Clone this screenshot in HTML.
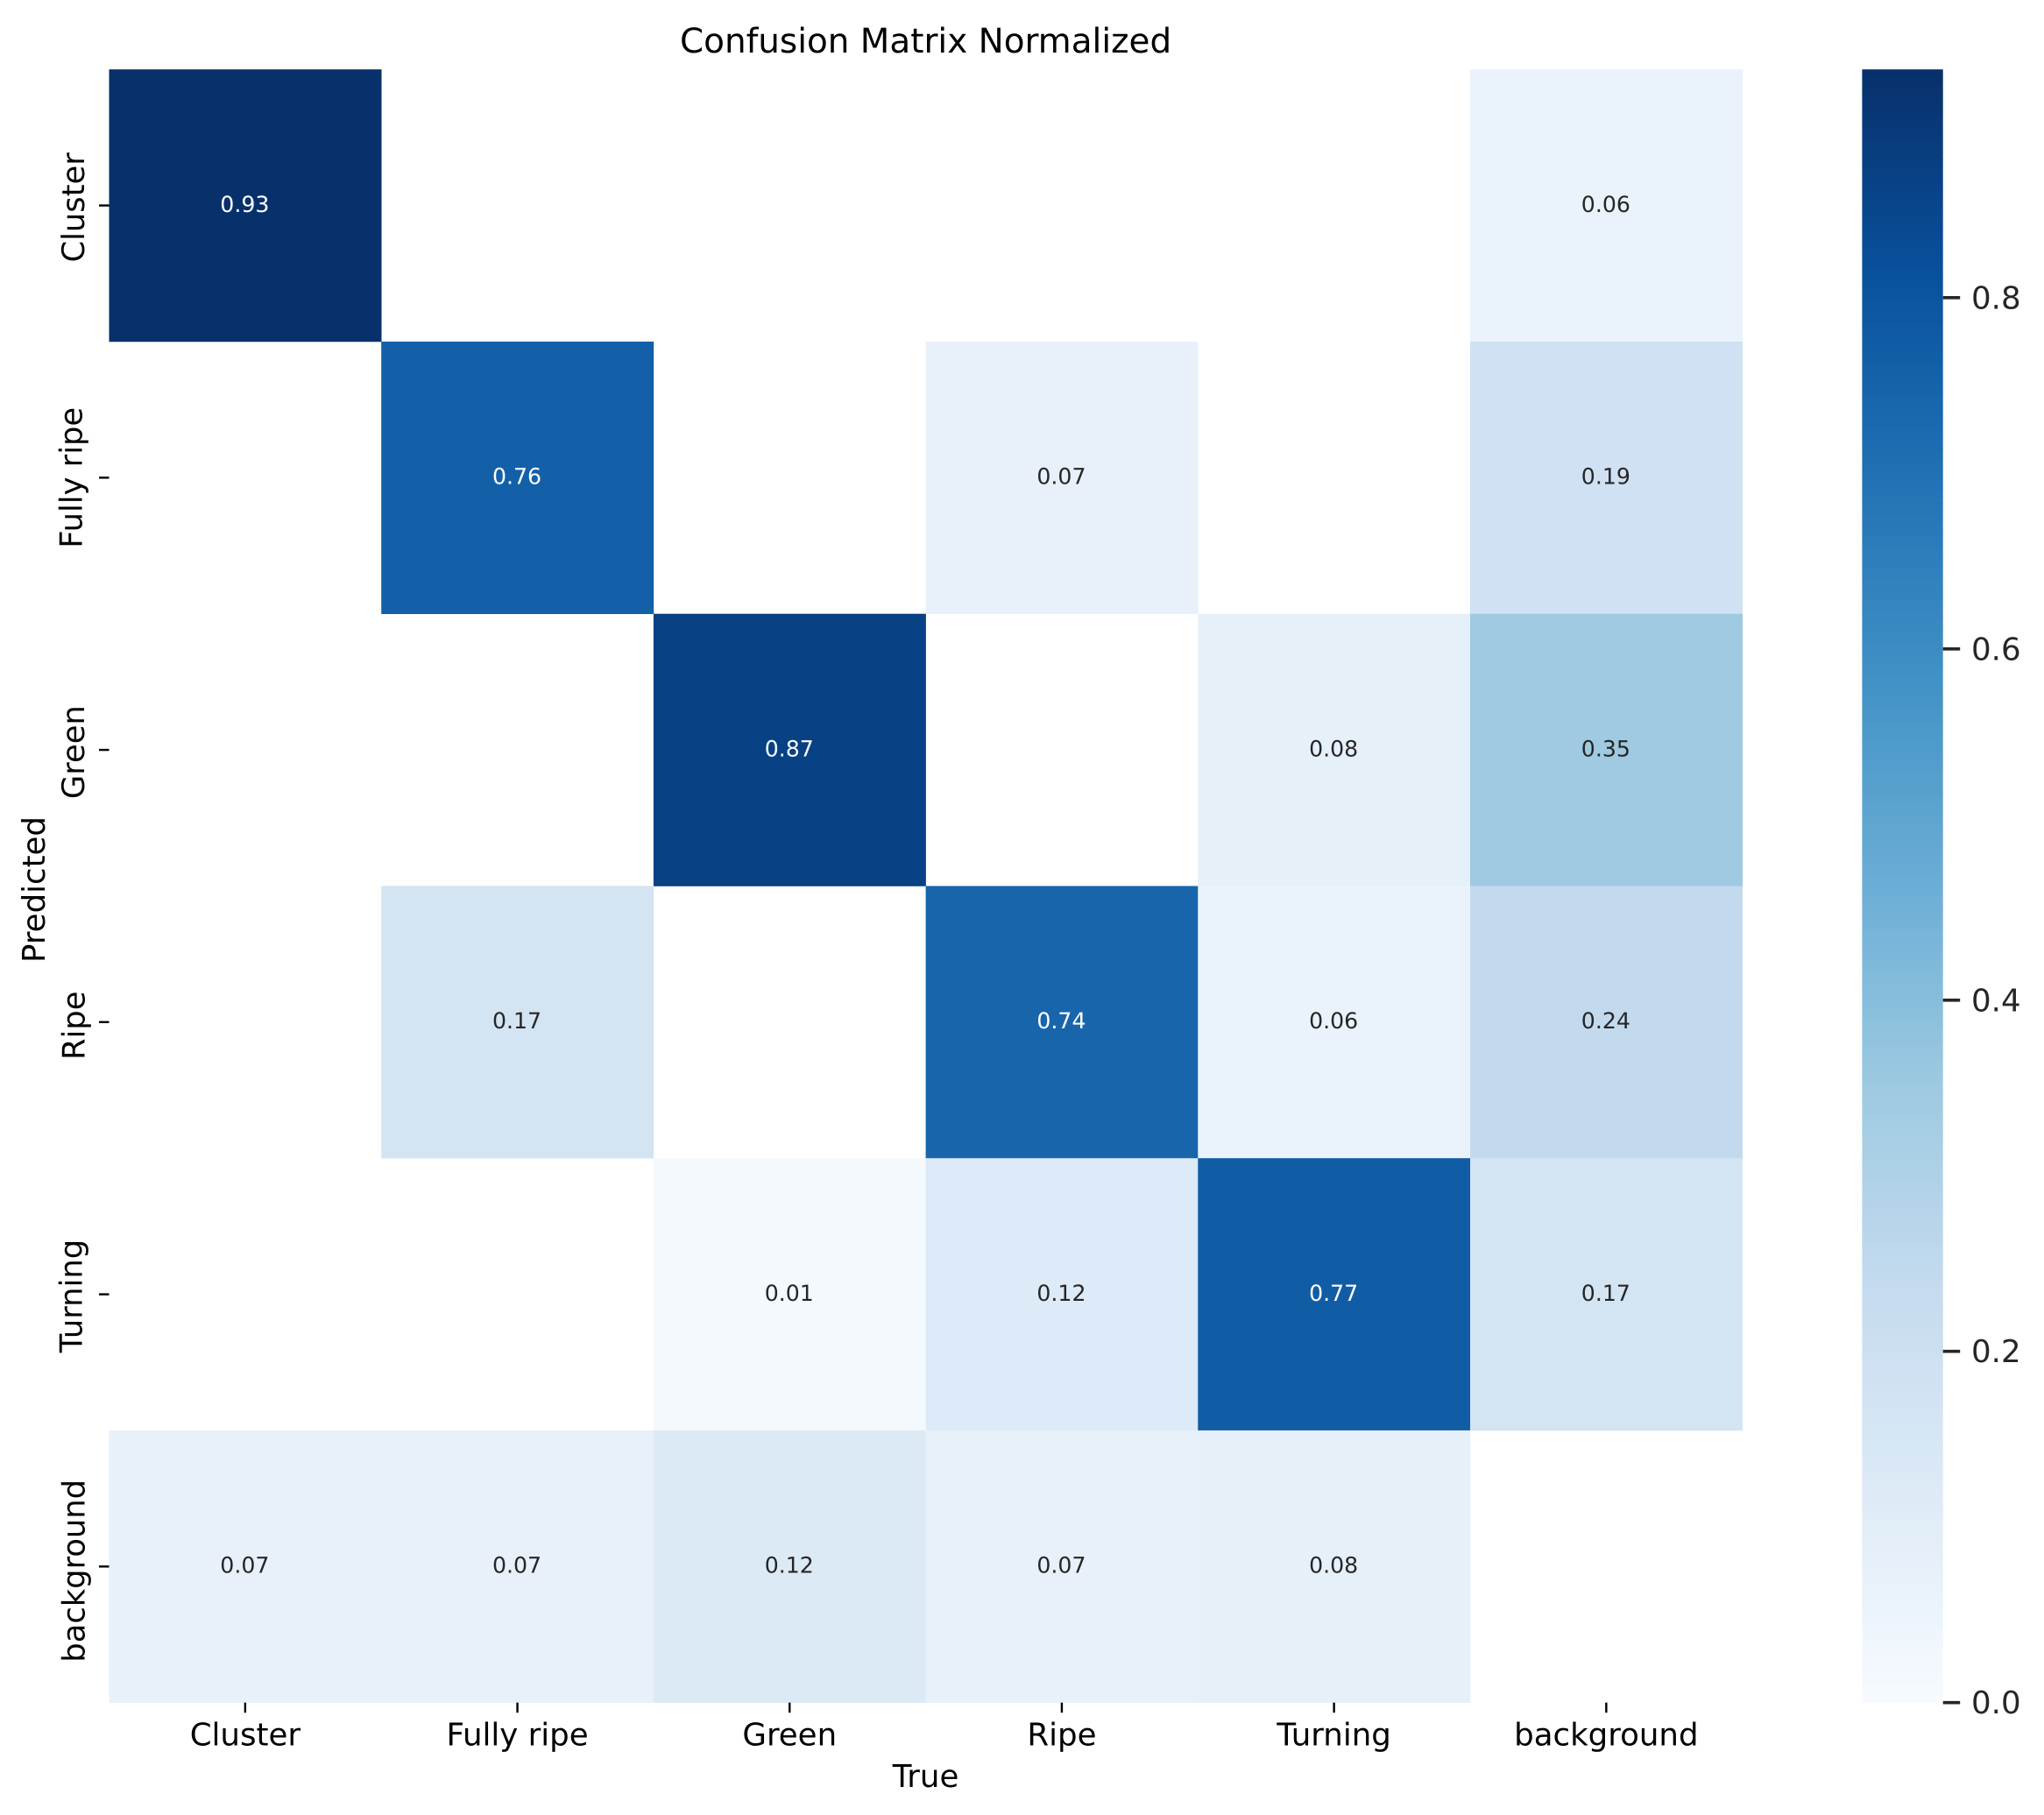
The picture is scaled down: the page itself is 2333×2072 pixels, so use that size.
<!DOCTYPE html>
<html lang="en">
<head>
<meta charset="utf-8">
<title>Confusion Matrix Normalized</title>
<style>
html,body{margin:0;padding:0;background:#fff;}
svg{display:block;font-family:"DejaVu Sans","Liberation Sans",sans-serif;text-rendering:geometricPrecision;}
</style>
</head>
<body>
<svg id="chart" xmlns="http://www.w3.org/2000/svg" width="2333" height="2072" viewBox="0 0 2333 2072">
<rect x="0" y="0" width="2333" height="2072" fill="#ffffff"/>
<g id="cells"></g>
<g id="annots"></g>
<g id="xticks"></g>
<g id="yticks"></g>
<g id="cbar"></g>
<g id="cbarticks"></g>
<text x="1056.6" y="60" font-size="38.9" text-anchor="middle" fill="#000">Confusion Matrix Normalized</text>
<text x="1056.6" y="2040" font-size="35.6" text-anchor="middle" fill="#000">True</text>
<text transform="translate(51,1015.5) rotate(-90)" font-size="35.6" text-anchor="middle" fill="#000">Predicted</text>
</svg>
<script>
const trueLabels = ["Cluster", "Fully ripe", "Green", "Ripe", "Turning", "background"];
const predictedLabels = ["Cluster", "Fully ripe", "Green", "Ripe", "Turning", "background"];
const rowCluster = [0.93, 0, 0, 0, 0, 0.06];
const rowFullyRipe = [0, 0.76, 0, 0.07, 0, 0.19];
const rowGreen = [0, 0, 0.87, 0, 0.08, 0.346];
const rowRipe = [0, 0.17, 0, 0.74, 0.06, 0.24];
const rowTurning = [0, 0, 0.013, 0.12, 0.77, 0.17];
const rowBackground = [0.07, 0.07, 0.124, 0.07, 0.08, 0];
const colorbarTicks = [0, 0.2, 0.4, 0.6, 0.8];
const blues = ["#f7fbff", "#deebf7", "#c6dbef", "#9ecae1", "#6baed6", "#4292c6", "#2171b5", "#08519c", "#08306b"];

const matrix = [rowCluster, rowFullyRipe, rowGreen, rowRipe, rowTurning, rowBackground];
const NS = "http://www.w3.org/2000/svg";
const plot = { left: 124.5, right: 1988.7, top: 79.2, bottom: 1943.7 };
const bar = { left: 2125.4, right: 2217.7, top: 79.2, bottom: 1943.7 };
const yLabelNudge = { "Cluster": [96, 2.3], "Fully ripe": [93.4, 0], "Green": [96, 2.6], "Ripe": [96.5, 4], "Turning": [93.4, 2], "background": [96.6, 5] };
const vMax = Math.max(...matrix.flat());
const cellW = (plot.right - plot.left) / trueLabels.length;
const cellH = (plot.bottom - plot.top) / predictedLabels.length;
const xEdge = i => plot.left + i * cellW;
const yEdge = i => plot.top + i * cellH;
const yBar = v => bar.bottom - (v / vMax) * (bar.bottom - bar.top);

function hexRgb(h) {
  return [1, 3, 5].map(i => parseInt(h.substr(i, 2), 16));
}
function colorRgb(v) {
  const t = Math.max(0, Math.min(1, v / vMax)) * (blues.length - 1);
  const i = Math.min(Math.floor(t), blues.length - 2);
  const a = hexRgb(blues[i]);
  const b = hexRgb(blues[i + 1]);
  return a.map((c, k) => c + (b[k] - c) * (t - i));
}
function css(rgb) {
  return "rgb(" + rgb.map(c => Math.round(c)).join(",") + ")";
}
function luminance(rgb) {
  const l = rgb.map(c => {
    const s = c / 255;
    return s <= 0.03928 ? s / 12.92 : Math.pow((s + 0.055) / 1.055, 2.4);
  });
  return 0.2126 * l[0] + 0.7152 * l[1] + 0.0722 * l[2];
}
function make(tag, parent, attrs) {
  const el = document.createElementNS(NS, tag);
  for (const k in attrs) el.setAttribute(k, attrs[k]);
  parent.appendChild(el);
  return el;
}

const cellsG = document.getElementById("cells");
const annotsG = document.getElementById("annots");
const xG = document.getElementById("xticks");
const yG = document.getElementById("yticks");
const barG = document.getElementById("cbar");
const barTicksG = document.getElementById("cbarticks");

matrix.forEach((row, r) => {
  row.forEach((v, c) => {
    if (v === 0) return;
    const rgb = colorRgb(v);
    const cell = make("rect", cellsG, { x: xEdge(c), y: yEdge(r), width: cellW + 0.3, height: cellH + 0.3, fill: css(rgb) });
    
    
    const label = make("text", annotsG, { x: xEdge(c) + cellW / 2 - 0.5, y: yEdge(r) + cellH / 2 + 7.4, "font-size": 25.2, "text-anchor": "middle", fill: luminance(rgb) > 0.408 ? "#262626" : "#ffffff" });
    label.textContent = v.toFixed(2);
    
    
  });
});

trueLabels.forEach((name, i) => {
  const x = xEdge(i) + cellW / 2;
  const tick = make("line", xG, { x1: x, x2: x, y1: plot.bottom, y2: plot.bottom + 11.5, stroke: "#000", "stroke-width": 2.4 });
  
  
  const label = make("text", xG, { x: x, y: 1992.6, "font-size": 35.6, "text-anchor": "middle", fill: "#000" });
  label.textContent = name;
  
  
});

predictedLabels.forEach((name, i) => {
  const y = yEdge(i) + cellH / 2;
  const tick = make("line", yG, { x1: plot.left - 11.5, x2: plot.left, y1: y, y2: y, stroke: "#000", "stroke-width": 2.4 });
  
  
  const nudge = yLabelNudge[name] || [96, 2];
  const label = make("text", yG, { transform: "translate(" + nudge[0] + "," + (y + nudge[1]) + ") rotate(-90)", "font-size": 35.3, "text-anchor": "middle", fill: "#000" });
  label.textContent = name;
  
  
});

const levels = 256;
for (let i = 0; i < levels; i++) {
  const lo = vMax * i / levels;
  const hi = vMax * (i + 1) / levels;
  const seg = make("rect", barG, { x: bar.left, y: yBar(hi), width: bar.right - bar.left, height: yBar(lo) - yBar(hi) + 0.5, fill: css(colorRgb((lo + hi) / 2)) });
  
  
}

colorbarTicks.forEach(v => {
  const y = yBar(v);
  const tick = make("line", barTicksG, { x1: bar.right, x2: bar.right + 19.5, y1: y, y2: y, stroke: "#262626", "stroke-width": 3.6 });
  
  
  const label = make("text", barTicksG, { x: 2250, y: y + 12.5, "font-size": 35.6, fill: "#262626" });
  label.textContent = v.toFixed(1);
  
  
});
</script>
</body>
</html>
